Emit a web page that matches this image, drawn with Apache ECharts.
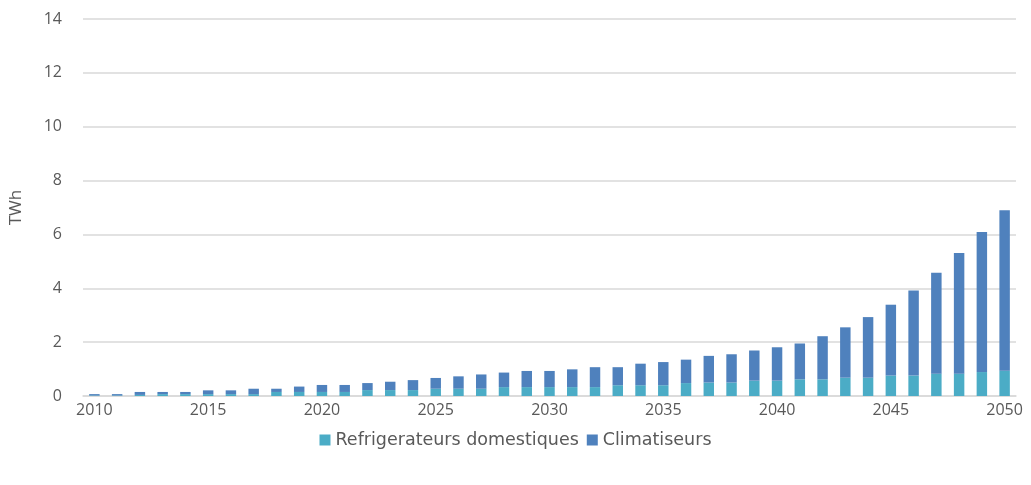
<!DOCTYPE html>
<html>
<head>
<meta charset="utf-8">
<script src="https://cdn.jsdelivr.net/npm/echarts@6/dist/echarts.min.js"></script>
<style>html,body{margin:0;padding:0;background:#fff}#c{width:1031px;height:485px}</style>
</head>
<body>
<div id="c"></div>
<script>
const years = ['2010','2011','2012','2013','2014','2015','2016','2017','2018','2019','2020','2021','2022','2023','2024','2025','2026','2027','2028','2029','2030','2031','2032','2033','2034','2035','2036','2037','2038','2039','2040','2041','2042','2043','2044','2045','2046','2047','2048','2049','2050'];
const refrigerateurs = [0.02,0.02,0.04,0.07,0.07,0.07,0.07,0.07,0.15,0.15,0.15,0.15,0.22,0.22,0.22,0.27,0.27,0.27,0.33,0.33,0.33,0.33,0.33,0.40,0.40,0.40,0.48,0.50,0.50,0.57,0.57,0.62,0.62,0.68,0.68,0.76,0.76,0.83,0.83,0.89,0.94];
const climatiseurs = [0.05,0.05,0.11,0.08,0.08,0.14,0.14,0.20,0.12,0.20,0.26,0.26,0.26,0.31,0.37,0.40,0.46,0.53,0.54,0.60,0.60,0.66,0.74,0.67,0.80,0.86,0.87,0.99,1.05,1.12,1.24,1.33,1.60,1.87,2.25,2.63,3.16,3.75,4.48,5.20,5.96];
const yTicks = [0,2,4,6,8,10,12,14];

const font = '"Open Sans", "Noto Sans", sans-serif';
const chart = echarts.init(document.getElementById('c'), null, {renderer:'canvas'});
chart.setOption({
  animation:false,
  grid:{left:81,right:15,top:19,bottom:89,containLabel:false},
  legend:{
    bottom:31,left:'center',itemWidth:11,itemHeight:11,itemGap:8,
    icon:'rect',
    textStyle:{color:'#595959',fontSize:17.5,fontFamily:'"DejaVu Sans", sans-serif',padding:[0,0,0,0]},
    data:['Refrigerateurs domestiques','Climatiseurs']
  },
  xAxis:{
    type:'category',data:years,
    axisLine:{lineStyle:{color:'#d9d9d9',width:1.5}},
    axisTick:{show:false},
    axisLabel:{interval:4,color:'#595959',fontSize:16,fontFamily:font,margin:6}
  },
  yAxis:{
    type:'value',min:yTicks[0],max:yTicks[yTicks.length-1],interval:2,
    name:'TWh',nameLocation:'middle',nameGap:58,nameRotate:90,
    nameTextStyle:{color:'#595959',fontSize:17,fontFamily:font},
    axisLine:{show:false},axisTick:{show:false},
    splitLine:{lineStyle:{color:'#d9d9d9',width:1.5}},
    axisLabel:{color:'#595959',fontSize:16,fontFamily:font,margin:21}
  },
  series:[
    {name:'Refrigerateurs domestiques',type:'bar',stack:'t',data:refrigerateurs,barWidth:'46%',
     itemStyle:{color:'#4BACC6'}},
    {name:'Climatiseurs',type:'bar',stack:'t',data:climatiseurs,barWidth:'46%',
     itemStyle:{color:'#4F81BD'}}
  ]
});
</script>
</body>
</html>
